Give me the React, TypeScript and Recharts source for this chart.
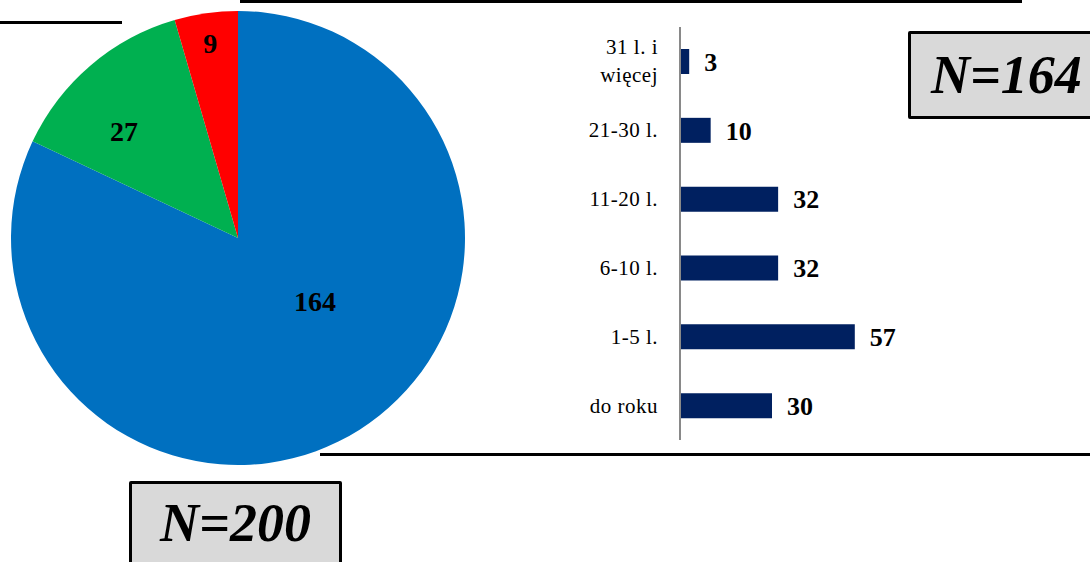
import React from 'react';
import { PieChart, Pie, Cell, BarChart, Bar, XAxis, YAxis, LabelList } from 'recharts';

// pie: all respondents
const pieNames = ['grupa A', 'grupa B', 'grupa C'];
const pieValues = [164, 27, 9];
const pieColors = ['#0070C0', '#00B050', '#FF0000'];

// bars: subgroup N=164
const barCategories = ['31 l. i więcej', '21-30 l.', '11-20 l.', '6-10 l.', '1-5 l.', 'do roku'];
const barValues = [3, 10, 32, 32, 57, 30];

// label placement inside the slices (fraction of radius, angle shift in deg)
const labelRadius = [0.44, 0.686, 0.866];
const labelShift = [18, 6.5, 0];

const pieData = pieNames.map((name, i) => ({ name, value: pieValues[i] }));
const barData = barCategories.map((name, i) => ({ name, value: barValues[i] }));

const SERIF = '"Liberation Serif", "DejaVu Serif", serif';
const RADIAN = Math.PI / 180;

const renderPieLabel = (props: any) => {
  const { cx, cy, midAngle, outerRadius, index, value } = props;
  const a = (midAngle + labelShift[index]) * RADIAN;
  const r = outerRadius * labelRadius[index];
  const x = cx + r * Math.cos(a);
  const y = cy - r * Math.sin(a);
  return (
    <text x={x} y={y} textAnchor="middle" dominantBaseline="central"
      fontFamily={SERIF} fontSize={28} fontWeight="bold" fill="#000">
      {value}
    </text>
  );
};

// greedy word wrap by character count
const wrap = (s: string, maxChars = 8) => {
  const out: string[] = [];
  let cur = '';
  s.split(' ').forEach((w) => {
    const next = cur ? cur + ' ' + w : w;
    if (cur && next.length > maxChars) {
      out.push(cur);
      cur = w;
    } else cur = next;
  });
  if (cur) out.push(cur);
  return out;
};

const CategoryTick = (props: any) => {
  const { x, y, payload } = props;
  const lines = wrap(String(payload.value));
  const lh = 28;
  const y0 = y - ((lines.length - 1) * lh) / 2;
  return (
    <text x={x} y={y0} textAnchor="end" dominantBaseline="central"
      fontFamily={SERIF} fontSize={21} letterSpacing={0.5} fill="#000">
      {lines.map((l, i) => (
        <tspan key={i} x={x} y={y0 + i * lh}>{l}</tspan>
      ))}
    </text>
  );
};

const line = (left: number, top: number, width: number, h = 3) => (
  <div style={{ position: 'absolute', left, top, width, height: h, background: '#000' }} />
);

const boxStyle: React.CSSProperties = {
  position: 'absolute',
  boxSizing: 'border-box',
  border: '3px solid #000',
  borderRadius: 2,
  background: '#D9D9D9',
  fontFamily: SERIF,
  fontStyle: 'italic',
  fontWeight: 'bold',
  fontSize: 54,
  color: '#000',
  display: 'flex',
  alignItems: 'center',
};

export default function App() {
  return (
    <div style={{ position: 'fixed', left: 0, top: 0, width: 1090, height: 562, background: '#fff', overflow: 'hidden' }}>
      {line(0, 21, 122)}
      {line(240, 0, 782)}
      {line(320, 453, 770)}

      <div style={{ position: 'absolute', left: 0, top: 0 }}>
        <PieChart width={480} height={480} margin={{ top: 0, right: 0, bottom: 0, left: 0 }}>
          <Pie data={pieData} dataKey="value" nameKey="name" cx={238} cy={238} outerRadius={227}
            startAngle={90} endAngle={-270} stroke="none" label={renderPieLabel} labelLine={false}
            isAnimationActive={false}>
            {pieData.map((d, i) => <Cell key={d.name} fill={pieColors[i]} />)}
          </Pie>
        </PieChart>
      </div>

      <div style={{ position: 'absolute', left: 540, top: 0 }}>
        <BarChart width={384} height={450} data={barData} layout="vertical"
          margin={{ top: 27, right: 60, bottom: 10, left: 0 }}>
          <XAxis type="number" domain={[0, 60]} hide />
          <YAxis type="category" dataKey="name" width={140} tickLine={false} tickSize={0} tickMargin={22}
            axisLine={{ stroke: '#898989', strokeWidth: 2 }} tick={<CategoryTick />} interval={0} />
          <Bar dataKey="value" fill="#002060" barSize={25} isAnimationActive={false}>
            <LabelList dataKey="value" position="right" offset={15}
              style={{ fontFamily: SERIF, fontSize: 26, fontWeight: 'bold', fill: '#000' }} />
          </Bar>
        </BarChart>
      </div>

      <div style={{ ...boxStyle, left: 908, top: 31, width: 200, height: 88, paddingLeft: 20 }}>N=164</div>
      <div style={{ ...boxStyle, left: 129, top: 481, width: 213, height: 90, justifyContent: 'center', paddingBottom: 6 }}>N=200</div>
    </div>
  );
}
